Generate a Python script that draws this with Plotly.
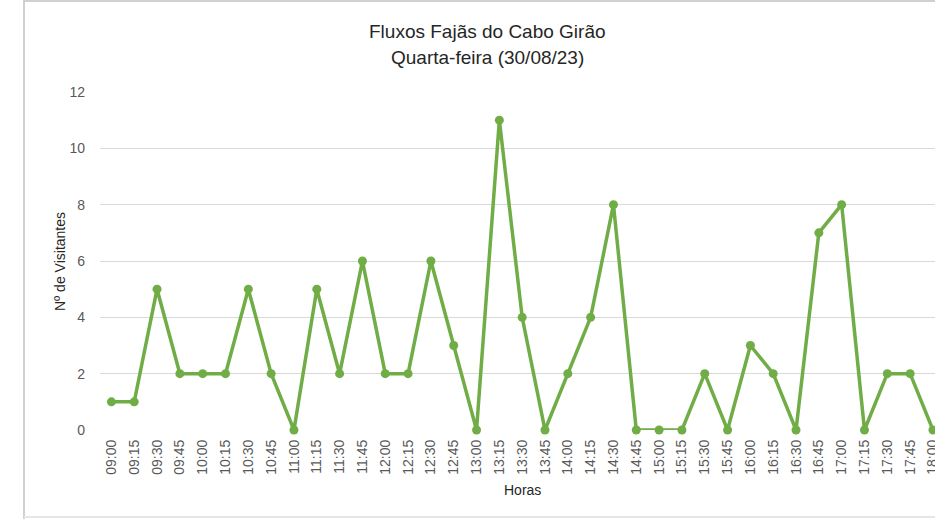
import plotly.graph_objects as go

horas = ["09:00","09:15","09:30","09:45","10:00","10:15","10:30","10:45",
         "11:00","11:15","11:30","11:45","12:00","12:15","12:30","12:45",
         "13:00","13:15","13:30","13:45","14:00","14:15","14:30","14:45",
         "15:00","15:15","15:30","15:45","16:00","16:15","16:30","16:45",
         "17:00","17:15","17:30","17:45","18:00"]
visitantes = [1,1,5,2,2,2,5,2,
              0,5,2,6,2,2,6,3,
              0,11,4,0,2,4,8,0,
              0,0,2,0,3,2,0,7,
              8,0,2,2,0]
y_ticks = [0,2,4,6,8,10,12]

W, H = 935, 519
L, R, T, B = 100, 0, 92, 89
pw, ph = W - L - R, H - T - B

def px(x):
    return (x - L) / pw

def py(y):
    return (H - B - y) / ph

GREEN = "#70AD47"
FONT = "Liberation Sans, Arial, sans-serif"

fig = go.Figure(go.Scatter(
    x=list(range(len(horas))), y=visitantes, mode="lines+markers",
    line=dict(color=GREEN, width=3.5),
    marker=dict(color=GREEN, size=9),
    cliponaxis=False, showlegend=False,
))

def ann(text, x, y, size, angle=0):
    return dict(text=text, x=px(x), y=py(y), xref="paper", yref="paper",
                xanchor="center", yanchor="middle", showarrow=False,
                textangle=angle, font=dict(size=size, color="#262626", family=FONT))

fig.update_layout(
    width=W, height=H,
    margin=dict(l=L, r=R, t=T, b=B, pad=0, autoexpand=False),
    paper_bgcolor="white", plot_bgcolor="white",
    font=dict(family=FONT, color="#595959"),
    xaxis=dict(
        tickmode="array", tickvals=list(range(len(horas))), ticktext=horas,
        range=[-0.5, 36.09], tickangle=-90, showgrid=False,
        showline=False, zeroline=False, ticks="", automargin=False,
        tickfont=dict(size=14, color="#595959"), ticklabelstandoff=6,
        ticklabeloverflow="allow",
    ),
    yaxis=dict(
        range=[0, 12], tickvals=y_ticks, showgrid=True, automargin=False,
        gridcolor="#D9D9D9", gridwidth=1.3, zeroline=False, showline=False,
        ticks="", tickfont=dict(size=14, color="#595959"), ticklabelstandoff=14,
    ),
    annotations=[
        ann("Fluxos Fajãs do Cabo Girão", 487, 32, 19),
        ann("Quarta-feira (30/08/23)", 487, 57, 19),
        ann("Horas", 522, 490, 14),
        ann("Nº de Visitantes", 60, 262, 14, -90),
    ],
    shapes=[
        dict(type="line", xref="paper", yref="paper",
             x0=px(24), x1=px(24), y0=py(0), y1=py(519),
             line=dict(color="#D0D0D0", width=2)),
        dict(type="line", xref="paper", yref="paper",
             x0=px(24), x1=px(935), y0=py(1), y1=py(1),
             line=dict(color="#D0D0D0", width=2)),
        dict(type="line", xref="paper", yref="paper",
             x0=px(24), x1=px(935), y0=py(517), y1=py(517),
             line=dict(color="#E6E6E6", width=2)),
    ],
)

fig.write_html("out.html",
               config={"displayModeBar": False},
               post_script="document.body.style.margin='0';document.body.style.overflow='hidden';")
